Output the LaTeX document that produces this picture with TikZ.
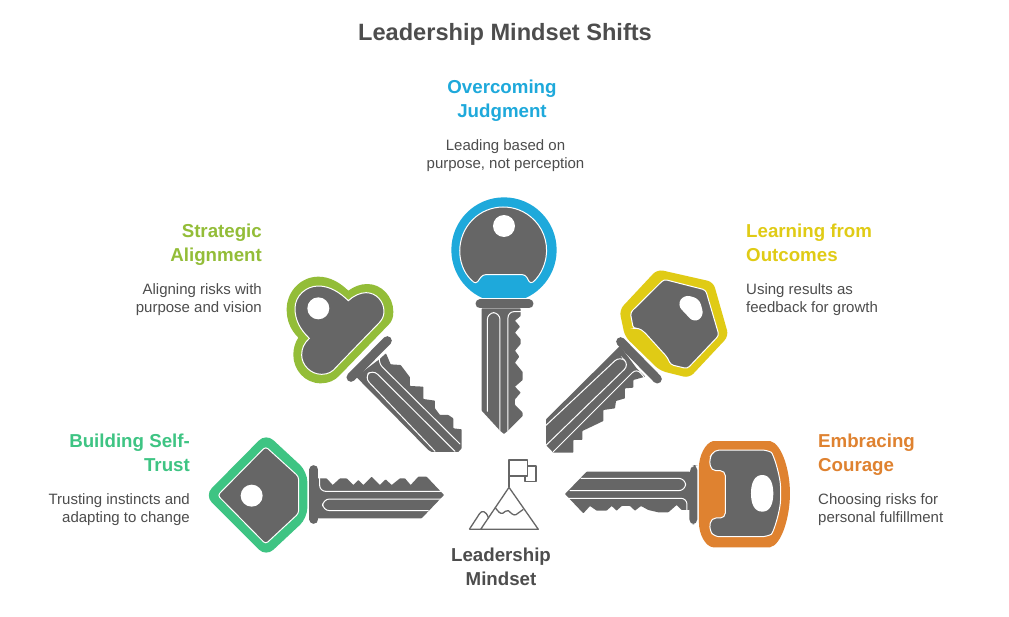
\documentclass[tikz,border=0pt]{standalone}
\usepackage{fontspec}
\setmainfont{Liberation Sans}
\usetikzlibrary{positioning}
\definecolor{keygray}{HTML}{666666}
\definecolor{textgray}{HTML}{4D4D4D}
\definecolor{bluekey}{HTML}{1EA9DB}
\definecolor{limekey}{HTML}{93BD38}
\definecolor{yellowkey}{HTML}{E0CB15}
\definecolor{greenkey}{HTML}{3EC483}
\definecolor{orangekey}{HTML}{DF8230}

\begin{document}
\begin{tikzpicture}[x=1pt,y=-1pt,
                    keyframe/.style={x=0.3333pt,y=-0.3333pt},
                    blade/.style={fill=keygray,rounded corners=0.6pt},
                    grip/.style={fill=keygray,draw=white,line width=1pt,rounded corners=3pt},
                    slot/.style={draw=white,line width=1pt,line cap=round,rounded corners=4pt},
                    collar/.style={draw=keygray,line width=9pt,line cap=round},
                    title node/.style={font=\bfseries\fontsize{23.6}{28}\selectfont,text=textgray,inner sep=0pt},
                    head node/.style={font=\bfseries\fontsize{18.7}{24}\selectfont,inner sep=0pt},
                    body node/.style={font=\fontsize{15}{18}\selectfont,text=textgray,inner sep=0pt},
                    icon line/.style={draw=keygray,line width=1.3pt,line join=round}]
  \useasboundingbox (0,0) rectangle (1009,616);
  \fill[white] (0,0) rectangle (1009,616);

  %Title%
  \node[title node] (title) at (505,34) {Leadership Mindset Shifts};

  %Labels%
  \node[head node,text=bluekey,align=center] (judgment) at (502,101) {Overcoming\\Judgment};
  \node[body node,align=center,below=17pt of judgment,xshift=3.5pt] (judgmenttext) {Leading based on\\purpose, not perception};

  \node[head node,text=limekey,align=right,anchor=east] (alignment) at (262,245) {Strategic\\Alignment};
  \node[body node,align=right,below=17pt of alignment.south east,anchor=north east] (alignmenttext) {Aligning risks with\\purpose and vision};

  \node[head node,text=yellowkey,align=left,anchor=west] (outcomes) at (746,243) {Learning from\\Outcomes};
  \node[body node,align=left,below=21pt of outcomes.south west,anchor=north west] (outcomestext) {Using results as\\feedback for growth};

  \node[head node,text=greenkey,align=right,anchor=east] (trust) at (190,453) {Building Self-\\Trust};
  \node[body node,align=right,below=21pt of trust.south east,anchor=north east] (trusttext) {Trusting instincts and\\adapting to change};

  \node[head node,text=orangekey,align=left,anchor=west] (courage) at (818,455) {Embracing\\Courage};
  \node[body node,align=left,below=17pt of courage.south west,anchor=north west] (couragetext) {Choosing risks for\\personal fulfillment};

  \node[head node,text=textgray,align=center] (mindset) at (501,567) {Leadership\\Mindset};

  %Blue key%
  \begin{scope}[shift={(430,190)},keyframe]
    \begin{scope}
      \clip (0,0) rectangle (420,322);
      \fill[bluekey] (222,180) circle (158);
    \end{scope}
    \draw[grip] (222,254) -- (158,254) -- (138,282) arc[start angle=129,end angle=411,radius=130]
      -- (286,254) -- cycle;
    \fill[white] (222,108) circle (33);
    \draw[collar] (150,342) -- (297,342);
    \fill[blade] (155,355) -- (155,662) -- (210,722) -- (222,732) -- (234,722) -- (278,678) -- (278,668)
      -- (255,645) -- (255,628) -- (272,608) -- (255,590) -- (278,570) -- (278,546) -- (255,518)
      -- (268,500) -- (255,482) -- (272,462) -- (272,448) -- (255,428) -- (270,410) -- (255,392)
      -- (272,378) -- (272,355) -- cycle;
    \draw[slot,rounded corners=7pt] (172,664) -- (172,368) -- (210,368) -- (210,722);
    \draw[slot,rounded corners=6pt] (234,722) -- (234,365) -- (272,365);
  \end{scope}

  %Lime key%
  \begin{scope}[shift={(280,270)},keyframe]
    \fill[limekey] (55,203) .. controls (30,178) and (20,150) .. (20,118)
      .. controls (20,65) and (62,20) .. (115,20) .. controls (150,20) and (180,38) .. (205,62)
      .. controls (222,50) and (240,42) .. (262,42) .. controls (305,42) and (340,80) .. (340,125)
      .. controls (340,145) and (335,155) .. (325,165) -- (180,315)
      .. controls (165,332) and (145,340) .. (122,340) .. controls (75,340) and (40,300) .. (40,255)
      .. controls (40,235) and (45,218) .. (55,203) -- cycle;
    \draw[grip,rounded corners=0pt] (88,205) .. controls (60,178) and (45,150) .. (45,115)
      .. controls (45,78) and (78,48) .. (115,48) .. controls (150,48) and (180,68) .. (205,92)
      .. controls (220,78) and (240,68) .. (258,68) .. controls (290,68) and (312,95) .. (312,125)
      .. controls (312,140) and (305,150) .. (298,158) -- (170,290)
      .. controls (158,305) and (145,313) .. (125,313) .. controls (92,313) and (65,285) .. (65,255)
      .. controls (65,235) and (72,220) .. (88,205) -- cycle;
    \fill[white] (115,115) circle (33);
    \draw[collar] (213,322) -- (322,212);
    \fill[blade] (228,320) -- (445,540) -- (455,546) -- (535,546) -- (545,535) -- (545,478) -- (520,475)
      -- (520,445) -- (505,435) -- (480,435) -- (465,415) -- (465,392) -- (430,387) -- (430,350)
      -- (390,348) -- (390,322) -- (362,285) -- (332,283) -- (318,250) -- (298,268) -- cycle;
    \draw[slot,rounded corners=7pt] (465,544) -- (253,322) -- (278,298) -- (525,544);
    \draw[slot,rounded corners=5pt] (299,262) -- (296,280) -- (540,522);
  \end{scope}

  %Yellow key%
  \begin{scope}[shift={(540,260)},keyframe]
    \fill[yellowkey,rounded corners=6pt] (255,230) -- (238,150) -- (352,28) -- (520,66) -- (566,228)
      -- (448,354) -- (360,332) -- cycle;
    \draw[grip] (372,58) -- (497,90) -- (537,226) -- (442,326) -- (392,314)
      -- (382,292) -- (312,215) -- (295,204) -- (280,206) -- (271,158) -- cycle;
    \fill[white,rounded corners=6pt] (432,104) -- (478,116) -- (492,168) -- (462,188) -- (412,135) -- cycle;
    \draw[collar] (242,245) -- (352,357);
    \fill[blade] (240,258) -- (18,478) -- (18,555) -- (40,578) -- (100,578) -- (100,540) -- (127,540) -- (127,513)
      -- (165,495) -- (190,483) -- (190,450) -- (225,445) -- (228,423) -- (255,415) -- (255,385)
      -- (280,383) -- (280,360) -- (316,350) -- (290,325) -- cycle;
    \draw[slot,rounded corners=7pt] (18,496) -- (240,288) -- (268,314) -- (18,556);
    \draw[slot,rounded corners=6pt] (40,575) -- (290,325) -- (313,352);
  \end{scope}

  %Green key%
  \begin{scope}[shift={(200,430)},keyframe]
    \fill[greenkey,rounded corners=10pt] (14,196) -- (198,10) -- (322,125) -- (322,264) -- (198,380) -- cycle;
    \draw[grip] (53,196) -- (197,50) -- (296,140) -- (296,250) -- (197,342) -- cycle;
    \fill[white] (155,197) circle (33);
    \draw[collar] (342,119) -- (342,268);
    \fill[blade] (350,145) -- (380,145) -- (398,165) -- (420,145) -- (440,145) -- (460,165) -- (475,150)
      -- (490,165) -- (515,140) -- (540,165) -- (557,148) -- (575,165) -- (600,145) -- (615,145)
      -- (632,165) -- (655,140) -- (680,140) -- (732,195) -- (665,265) -- (350,265) -- cycle;
    \draw[slot,rounded corners=6pt] (359,145) -- (359,184) -- (722,184);
    \draw[slot,rounded corners=7pt] (730,207) -- (368,207) -- (368,242) -- (685,242);
  \end{scope}

  %Orange key%
  \begin{scope}[shift={(555,430)},keyframe]
    \fill[orangekey] (475,33) -- (645,33) .. controls (680,40) and (705,120) .. (705,190)
      .. controls (705,260) and (680,345) .. (645,352) -- (475,352) .. controls (450,350) and (432,310) .. (432,280)
      -- (432,110) .. controls (432,80) and (450,38) .. (475,33) -- cycle;
    \draw[grip,rounded corners=5pt] (478,60) -- (635,60) .. controls (655,70) and (677,140) .. (677,190)
      .. controls (677,240) and (655,310) .. (635,320) -- (478,320) -- (463,300)
      -- (468,264) -- (511,264) -- (511,122) -- (468,122) -- (463,85) -- cycle;
    \fill[white] (622,135) .. controls (645,135) and (655,160) .. (655,190) .. controls (655,222) and (645,245) .. (622,245)
      .. controls (598,245) and (588,222) .. (588,190) .. controls (588,160) and (598,135) .. (622,135) -- cycle;
    \fill[keygray,rounded corners=5pt] (427,105) -- (415,105) -- (403,122) -- (403,283) -- (427,283) -- cycle;
    \fill[blade] (405,125) -- (95,125) -- (30,192) -- (85,250) -- (105,228) -- (125,242) -- (155,242) -- (170,228)
      -- (185,242) -- (200,228) -- (225,228) -- (240,242) -- (258,228) -- (280,240) -- (310,247)
      -- (340,247) -- (365,225) -- (380,240) -- (405,240) -- cycle;
    \draw[slot,rounded corners=7pt] (78,145) -- (392,145) -- (392,182) -- (45,182);
    \draw[slot,rounded corners=6pt] (38,205) -- (396,205) -- (396,240);
  \end{scope}

  %Mountain icon%
  \begin{scope}[shift={(450,450)},keyframe]
    \draw[icon line] (58,238) -- (265,238) -- (177,112) -- (92,238);
    \draw[icon line] (58,238) -- (88,192) .. controls (95,180) and (108,182) .. (115,203);
    \draw[icon line] (135,172) .. controls (145,185) and (150,192) .. (158,190) .. controls (165,188) and (168,178) .. (175,182)
      .. controls (182,188) and (190,198) .. (198,194) .. controls (206,190) and (212,182) .. (220,178);
    \draw[icon line] (177,112) -- (177,30) -- (232,30) -- (232,78) -- (177,78);
    \draw[icon line] (232,48) -- (258,48) -- (258,95) -- (225,95) -- (225,78);
  \end{scope}
\end{tikzpicture}
\end{document}
